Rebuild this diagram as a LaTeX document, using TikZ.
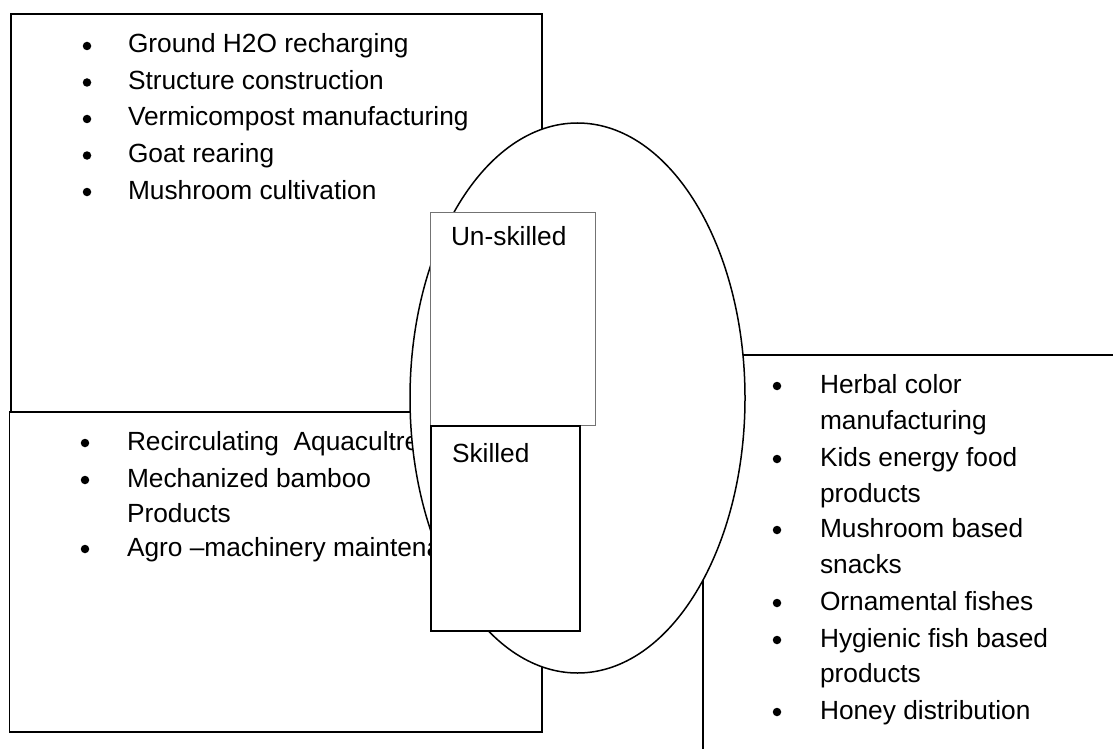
\documentclass[tikz,border=0pt]{standalone}
\usepackage{fontspec}
\setmainfont{Liberation Sans}
\usetikzlibrary{shapes.geometric}
\begin{document}
\begin{tikzpicture}[x=1pt,y=-1pt,
  frame/.style={draw=black,line width=1.6pt},
  item/.style={anchor=base west,inner sep=0pt,outer sep=0pt,font=\fontsize{26.3}{31}\selectfont},
  dot/.style={fill=black,circle,inner sep=0pt,minimum size=8.5pt},
  panel/.style={rectangle,fill=white,anchor=north west,inner sep=0pt,outer sep=0pt},
]
\useasboundingbox (0,0) rectangle (1113,749);

% outer panels
\draw[frame] (11,14) rectangle (542,412);
\draw[frame] (9.5,412) rectangle (542,732);
\coordinate (rtop) at (1114,355);
\coordinate (rcorner) at (703,355);
\coordinate (rbottom) at (703,750);
\draw[frame] (rtop) -- (rcorner) -- (rbottom);

% upper left list
\foreach \t [count=\i from 0] in {Ground H2O recharging,Structure construction,Vermicompost manufacturing,Goat rearing,Mushroom cultivation}{
  \node[dot] (tld\i) at (87,53+36.5*\i-7) {};
  \node[item] (tl\i) at (128,53+36.5*\i) {\t};
}

% lower left list
\node[dot] (bld0) at (85,443) {};
\node[item] (bl0) at (127,450) {Recirculating\ \ Aquacultre};
\node[dot] (bld1) at (85,480) {};
\node[item] (bl1) at (127,487) {Mechanized bamboo};
\node[item] (bl1b) at (127,522) {Products};
\node[dot] (bld2) at (85,549) {};
\node[item] (bl2) at (127,556) {Agro –machinery maintenance};

% right list
\node[dot] (rd0) at (777,386) {};
\node[item] (r0) at (820,393) {Herbal color};
\node[item] (r0b) at (820,429.5) {manufacturing};
\node[dot] (rd1) at (777,459) {};
\node[item] (r1) at (820,466) {Kids energy food};
\node[item] (r1b) at (820,502) {products};
\node[dot] (rd2) at (777,530) {};
\node[item] (r2) at (820,537) {Mushroom based};
\node[item] (r2b) at (820,573) {snacks};
\node[dot] (rd3) at (777,603) {};
\node[item] (r3) at (820,610) {Ornamental fishes};
\node[dot] (rd4) at (777,640) {};
\node[item] (r4) at (820,647) {Hygienic fish based};
\node[item] (r4b) at (820,682) {products};
\node[dot] (rd5) at (777,712) {};
\node[item] (r5) at (820,719) {Honey distribution};

% central oval
\node[ellipse,draw=black,line width=1.5pt,fill=white,inner sep=0pt,
      minimum width=335pt,minimum height=550pt] (oval) at (577.5,398) {};

% skill panels
\node[panel,draw=black!55,line width=1pt,minimum width=164.3pt,minimum height=213.7pt] (unsk) at (430.7,212) {};
\node[item] (unsklabel) at (451,245) {Un-skilled};
\node[panel,draw=black,line width=1.6pt,minimum width=149.3pt,minimum height=205pt] (sk) at (430.7,425.7) {};
\node[item] (sklabel) at (452,462) {Skilled};
\end{tikzpicture}
\end{document}
